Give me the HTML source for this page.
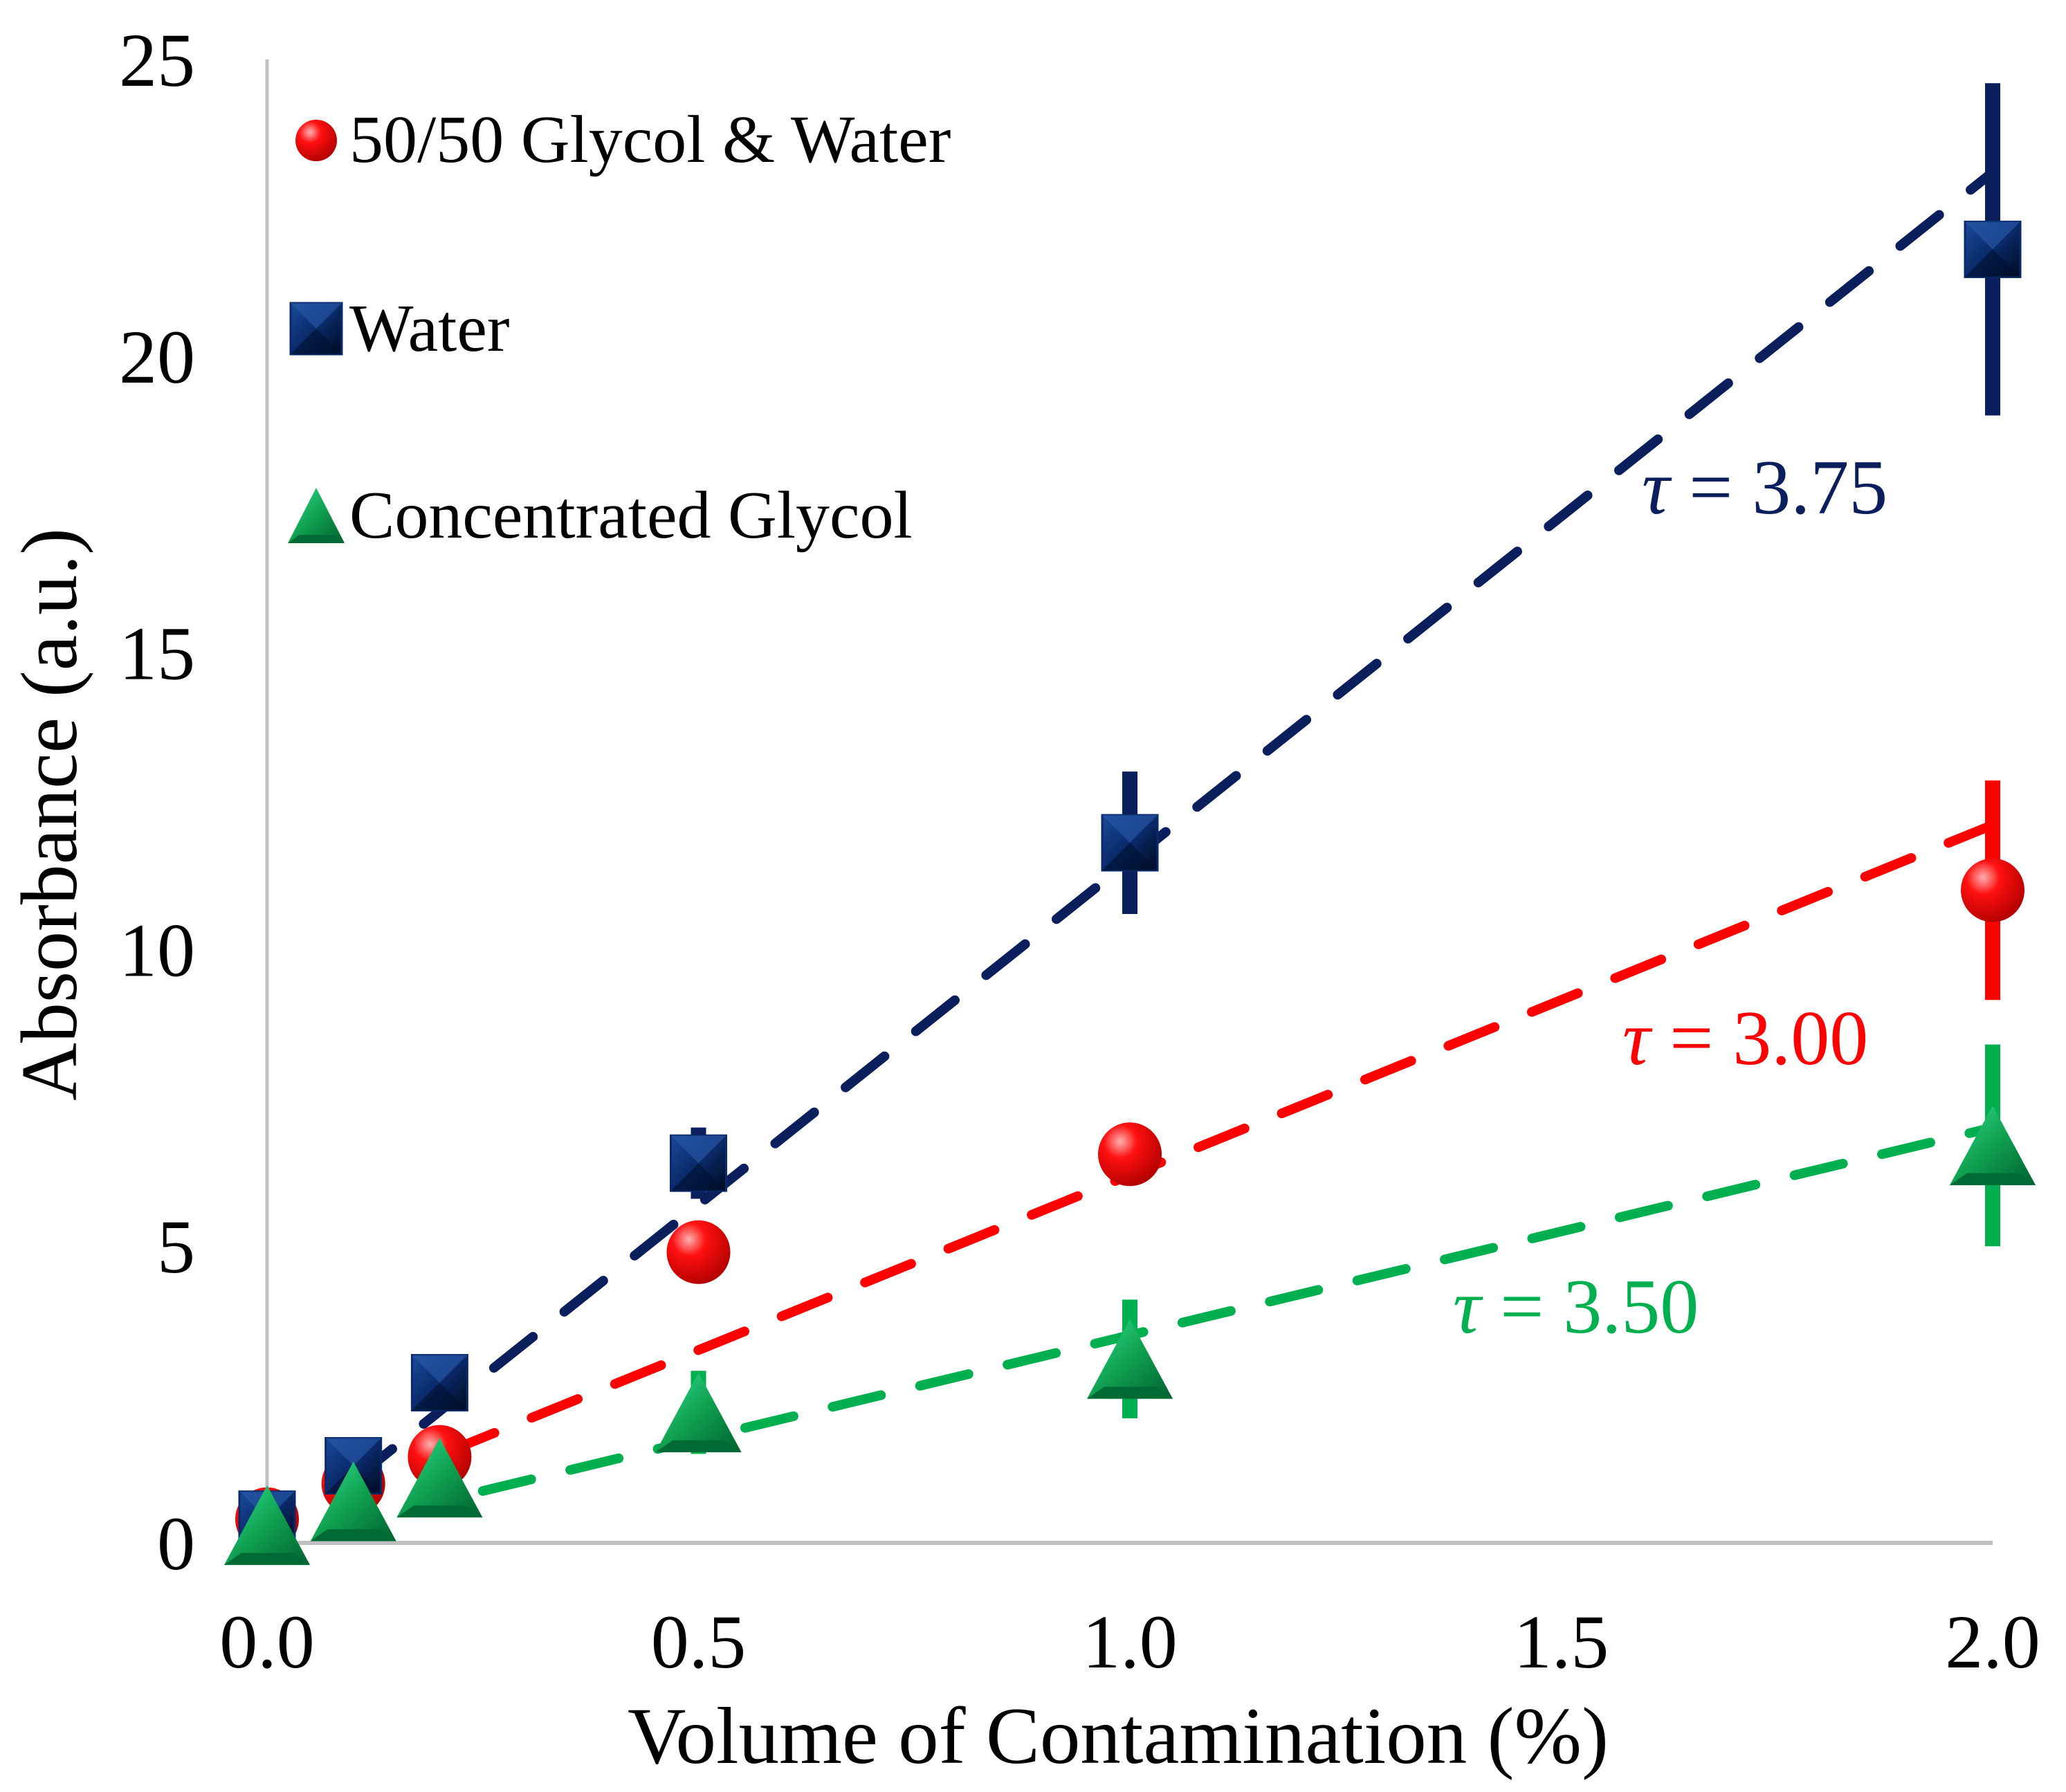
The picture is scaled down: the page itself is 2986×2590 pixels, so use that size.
<!DOCTYPE html>
<html><head><meta charset="utf-8"><style>
html,body{margin:0;padding:0;background:#fff;}
svg{display:block;}
text{font-family:"Liberation Serif",serif;}
</style></head><body>
<svg id="chart" width="2986" height="2590" viewBox="0 0 2986 2590" xmlns="http://www.w3.org/2000/svg">
<defs>
<radialGradient id="gRed" cx="0.35" cy="0.3" r="0.75"><stop offset="0" stop-color="#ffb0b0"/><stop offset="0.35" stop-color="#ff1010"/><stop offset="1" stop-color="#b00000"/></radialGradient>
<linearGradient id="gBlue" x1="0" y1="0" x2="1" y2="1"><stop offset="0" stop-color="#1a4a9a"/><stop offset="0.5" stop-color="#0a2a6a"/><stop offset="1" stop-color="#000a20"/></linearGradient>
<linearGradient id="gGreen" x1="0" y1="0" x2="1" y2="1"><stop offset="0" stop-color="#30e090"/><stop offset="0.5" stop-color="#10a050"/><stop offset="1" stop-color="#006030"/></linearGradient>
</defs>
<g id="axes"></g>
<g id="plot"></g>
<g id="legend"></g>
</svg>
<script>
const xTicks = [0, 0.5, 1.0, 1.5, 2.0];
const xTickLabels = ["0.0", "0.5", "1.0", "1.5", "2.0"];
const yTicks = [0, 5, 10, 15, 20, 25];
const yTickLabels = ["0", "5", "10", "15", "20", "25"];
const xValues = [0, 0.1, 0.2, 0.5, 1.0, 2.0];
const mixValues = [0.4, 1.0, 1.45, 4.9, 6.55, 11.0];
const mixErrors = [0, 0, 0, 0, 0, 1.85];
const waterValues = [0.4, 1.3, 2.7, 6.4, 11.8, 21.8];
const waterErrors = [0, 0, 0, 0.6, 1.2, 2.8];
const glycolValues = [0.3, 0.7, 1.1, 2.2, 3.1, 6.7];
const glycolErrors = [0, 0, 0, 0.7, 1.0, 1.7];
// fit lines: [slope, intercept, xStart, xEnd]
const waterFit = [11.6, -0.1, 0.1, 2.0];
const mixFit = [5.9, 0.3, 0.21, 2.0];
const glycolFit = [3.5, 0.0, 0.25, 2.0];
const tauValues = ["3.75", "3.00", "3.50"];

const NS = "http://www.w3.org/2000/svg";
const X0 = 386, X1 = 2880, Y0 = 2230, Y1 = 86;
const sx = v => X0 + (v - 0) / 2 * (X1 - X0);
const sy = v => Y0 - v / 25 * (Y0 - Y1);
function mk(tag, attrs, parent, txt) {
  const e = document.createElementNS(NS, tag);
  for (const k in attrs) e.setAttribute(k, attrs[k]);
  if (txt !== undefined) e.textContent = txt;
  parent.appendChild(e);
  return e;
}
const axes = document.getElementById('axes');
const plot = document.getElementById('plot');
const legend = document.getElementById('legend');

let a = mk('line', {x1: X0, y1: Y1, x2: X0, y2: Y0, stroke: '#c0c0c0', 'stroke-width': 5}, axes);


a = mk('line', {x1: X0, y1: Y0, x2: X1, y2: Y0, stroke: '#c0c0c0', 'stroke-width': 6}, axes);


yTicks.forEach((v, i) => {
  const t = mk('text', {x: 282, y: sy(v) + 38, 'font-size': 110, 'text-anchor': 'end', fill: '#000'}, axes, yTickLabels[i]);
  
  
});
xTicks.forEach((v, i) => {
  const t = mk('text', {x: sx(v), y: 2410, 'font-size': 110, 'text-anchor': 'middle', fill: '#000'}, axes, xTickLabels[i]);
  
  
});
a = mk('text', {x: 1616, y: 2548, 'font-size': 117, 'text-anchor': 'middle', fill: '#000'}, axes, 'Volume of Contamination (%)');


a = mk('text', {x: 0, y: 0, 'font-size': 116, 'text-anchor': 'middle', fill: '#000', transform: 'translate(110,1177) rotate(-90)'}, axes, 'Absorbance (a.u.)');



function fitLine(fit, color, name) {
  const l = mk('line', {x1: sx(fit[2]), y1: sy(fit[0] * fit[2] + fit[1]), x2: sx(fit[3]), y2: sy(fit[0] * fit[3] + fit[1]),
    stroke: color, 'stroke-width': 14, 'stroke-dasharray': '72 58', 'stroke-linecap': 'round'}, plot);
  
  
}
fitLine(glycolFit, '#00b050', 'glycol-fit-line');
fitLine(mixFit, '#ff0000', 'mix-fit-line');
fitLine(waterFit, '#0a1f5c', 'water-fit-line');

function errBars(vals, errs, color, name) {
  vals.forEach((v, i) => {
    if (!errs[i]) return;
    const e = mk('line', {x1: sx(xValues[i]), x2: sx(xValues[i]), y1: sy(v + errs[i]), y2: sy(v - errs[i]), stroke: color, 'stroke-width': 22}, plot);
    
    
  });
}
errBars(glycolValues, glycolErrors, '#00b050', 'glycol-error-bar');
errBars(mixValues, mixErrors, '#ff0000', 'mix-error-bar');
errBars(waterValues, waterErrors, '#0a1f5c', 'water-error-bar');

function square(cx, cy, s, parent, name) {
  const g = mk('g', {}, parent);
  
  
  mk('rect', {x: cx - s / 2, y: cy - s / 2, width: s, height: s, fill: 'url(#gBlue)', stroke: '#0a2a6a', 'stroke-width': 3}, g);
  mk('path', {d: `M${cx - s / 2} ${cy - s / 2}L${cx} ${cy}L${cx + s / 2} ${cy - s / 2}Z`, fill: '#2a5aaa', opacity: 0.6}, g);
  mk('path', {d: `M${cx - s / 2} ${cy + s / 2}L${cx} ${cy}L${cx + s / 2} ${cy + s / 2}Z`, fill: '#001030', opacity: 0.6}, g);
}
function circle(cx, cy, r, parent, name) {
  const c = mk('circle', {cx: cx, cy: cy, r: r, fill: 'url(#gRed)'}, parent);
  
  
}
function tri(cx, cy, w, h, parent, name) {
  const g = mk('g', {}, parent);
  
  
  mk('path', {d: `M${cx} ${cy - h / 2}L${cx + w / 2} ${cy + h / 2}L${cx - w / 2} ${cy + h / 2}Z`, fill: 'url(#gGreen)'}, g);
  mk('path', {d: `M${cx - w / 2} ${cy + h / 2}L${cx + w / 2} ${cy + h / 2}L${cx + w * 0.3} ${cy + h * 0.35}L${cx - w * 0.3} ${cy + h * 0.35}Z`, fill: '#006a35'}, g);
}
mixValues.forEach((v, i) => circle(sx(xValues[i]), sy(v), 46, plot, 'mix-point'));
waterValues.forEach((v, i) => square(sx(xValues[i]), sy(v), 80, plot, 'water-point'));
glycolValues.forEach((v, i) => tri(sx(xValues[i]), sy(v), 124, 115, plot, 'glycol-point'));

const tauPos = [[2373, 742, '#0a1f5c'], [2345, 1538, '#ff0000'], [2100, 1926, '#00b050']];
tauValues.forEach((s, i) => {
  const t = mk('text', {x: tauPos[i][0], y: tauPos[i][1], 'font-size': 112, fill: tauPos[i][2]}, plot);
  
  
  mk('tspan', {'font-style': 'italic'}, t, 'τ');
  mk('tspan', {}, t, '  = ' + s);
});

circle(457, 203, 30, legend, 'legend-mix-marker');
square(457, 475, 74, legend, 'legend-water-marker');
tri(457, 745, 82, 80, legend, 'legend-glycol-marker');
[['50/50 Glycol & Water', 234], ['Water', 507], ['Concentrated Glycol', 777]].forEach((r, i) => {
  const t = mk('text', {x: 505, y: r[1], 'font-size': 98, fill: '#000'}, legend, r[0]);
  
  
});
</script>
</body></html>
